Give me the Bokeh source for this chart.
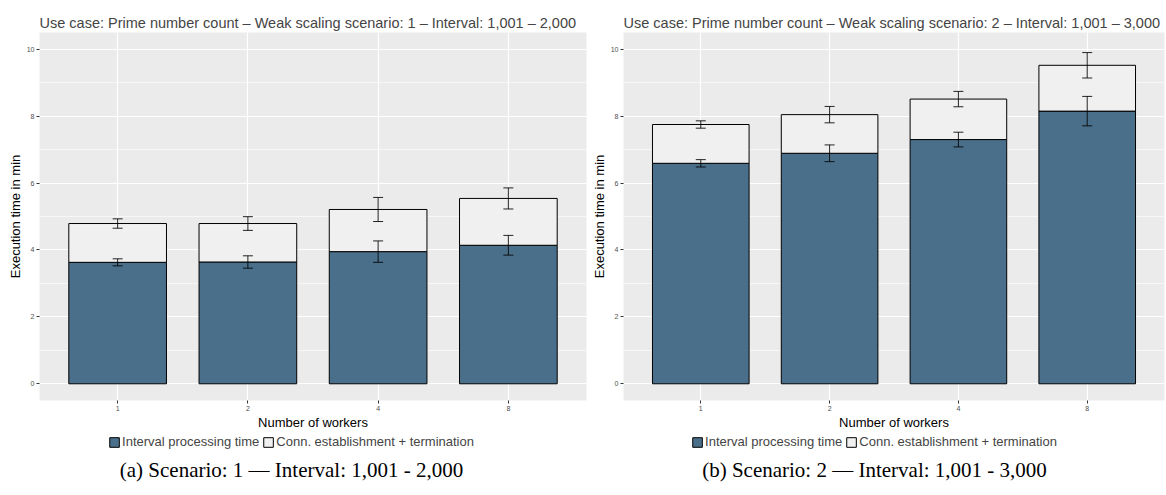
from bokeh.plotting import figure
from bokeh.models import (FactorRange, Range1d, ColumnDataSource, Whisker, TeeHead,
                          SingleIntervalTicker, Legend, LegendItem)
from bokeh.core.properties import value
from bokeh.layouts import row, column
from bokeh.embed import file_html
from bokeh.resources import INLINE

# Number of workers (categorical x axis)
workers = ["1", "2", "4", "8"]

# Scenario 1 - interval 1,001 - 2,000, execution time in minutes
s1_interval = [3.63, 3.64, 3.95, 4.14]
s1_interval_sd = [0.105, 0.185, 0.32, 0.295]
s1_conn = [1.16, 1.15, 1.26, 1.40]
s1_total_sd = [0.14, 0.205, 0.36, 0.315]

# Scenario 2 - interval 1,001 - 3,000, execution time in minutes
s2_interval = [6.59, 6.89, 7.30, 8.15]
s2_interval_sd = [0.11, 0.25, 0.22, 0.44]
s2_conn = [1.16, 1.155, 1.21, 1.37]
s2_total_sd = [0.11, 0.245, 0.23, 0.38]

series_labels = ["Interval processing time", "Conn. establishment + termination"]
titles = [
    "Use case: Prime number count \u2013 Weak scaling scenario: 1 \u2013 Interval: 1,001 \u2013 2,000",
    "Use case: Prime number count \u2013 Weak scaling scenario: 2 \u2013 Interval: 1,001 \u2013 3,000",
]
captions = [
    "(a) Scenario: 1 \u2014 Interval: 1,001 - 2,000",
    "(b) Scenario: 2 \u2014 Interval: 1,001 - 3,000",
]

INTERVAL_COLOR = "#4A6F8A"
CONN_COLOR = "#F0F0F0"
PANEL_BG = "#EBEBEB"
SANS = "Liberation Sans"
SERIF = "Liberation Serif"


def make_chart(interval, interval_sd, conn, total_sd, title, width, border_left):
    total = [i + c for i, c in zip(interval, conn)]
    src = ColumnDataSource(dict(
        x=workers,
        interval=interval,
        total=total,
        i_lo=[v - s for v, s in zip(interval, interval_sd)],
        i_hi=[v + s for v, s in zip(interval, interval_sd)],
        t_lo=[v - s for v, s in zip(total, total_sd)],
        t_hi=[v + s for v, s in zip(total, total_sd)],
    ))

    p = figure(
        x_range=FactorRange(*workers, range_padding=0.1, range_padding_units="absolute"),
        y_range=Range1d(-0.5, 10.5),
        width=width, height=432,
        output_backend="svg", toolbar_location=None,
        min_border_left=border_left, min_border_right=2,
        min_border_top=32, min_border_bottom=31,
        background_fill_color=PANEL_BG, border_fill_color="white",
        outline_line_color=None,
    )

    # title above the panel
    p.title.text = title
    p.title.text_font = SANS
    p.title.text_font_size = "14.5px"
    p.title.text_font_style = "normal"
    p.title.align = "left"
    p.title.standoff = 3

    # axes
    p.yaxis.ticker = SingleIntervalTicker(interval=2, num_minor_ticks=2)
    p.xaxis.axis_label = "Number of workers"
    p.yaxis.axis_label = "Execution time in min"
    for ax in (p.xaxis, p.yaxis):
        ax.axis_label_text_font = SANS
        ax.axis_label_text_font_size = "13px"
        ax.axis_label_text_font_style = "normal"
        ax.axis_label_text_color = "black"
        ax.axis_label_standoff = 1
        ax.major_label_text_font = SANS
        ax.major_label_text_font_size = "7px"
        ax.major_label_text_color = "#4D4D4D"
        ax.major_label_standoff = 2
        ax.axis_line_color = None
        ax.major_tick_line_color = "#333333"
        ax.major_tick_out = 3
        ax.major_tick_in = 0
        ax.minor_tick_out = 0
        ax.minor_tick_in = 0

    # grid
    p.xgrid.grid_line_color = "white"
    p.xgrid.grid_line_width = 1.2
    p.ygrid.grid_line_color = "white"
    p.ygrid.grid_line_width = 1.2
    p.ygrid.minor_grid_line_color = "white"
    p.ygrid.minor_grid_line_width = 0.6

    # stacked bars
    p.vbar(x="x", bottom=0, top="interval", width=0.75, source=src,
           fill_color=INTERVAL_COLOR, line_color="black", line_width=1)
    p.vbar(x="x", bottom="interval", top="total", width=0.75, source=src,
           fill_color=CONN_COLOR, line_color="black", line_width=1)

    # error bars (mean +/- sd of each stacked level), drawn over the bars
    for lo, hi in (("i_lo", "i_hi"), ("t_lo", "t_hi")):
        w = Whisker(source=src, base="x", lower=lo, upper=hi, level="overlay",
                    line_color="black", line_width=1, line_alpha=0.85,
                    upper_head=TeeHead(size=10, line_color="black", line_width=1, line_alpha=0.85),
                    lower_head=TeeHead(size=10, line_color="black", line_width=1, line_alpha=0.85))
        p.add_layout(w)
    return p


def make_footer(caption, width):
    """Legend row and sub-figure caption under a chart."""
    f = figure(width=width, height=63, x_range=Range1d(0, 1), y_range=Range1d(0, 1),
               x_axis_type=None, y_axis_type=None,
               output_backend="svg", toolbar_location=None,
               min_border=0, min_border_right=6, outline_line_color=None)
    f.grid.visible = False
    # legend swatches only: a single NaN row, so nothing is drawn in the frame
    swatch = ColumnDataSource(dict(x=[float("nan")], top=[float("nan")]))
    r_int = f.vbar(x="x", top="top", width=0.1, source=swatch,
                   fill_color=INTERVAL_COLOR, line_color="black", line_width=1)
    r_conn = f.vbar(x="x", top="top", width=0.1, source=swatch,
                    fill_color=CONN_COLOR, line_color="black", line_width=1)
    legend = Legend(
        items=[LegendItem(label=series_labels[0], renderers=[r_int]),
               LegendItem(label=series_labels[1], renderers=[r_conn])],
        orientation="horizontal", location="top_center",
        margin=2, padding=2, spacing=3, label_standoff=2,
        glyph_width=12, glyph_height=12,
        label_text_font=SANS, label_text_font_size="13px",
        border_line_color=None, background_fill_alpha=0,
    )
    f.add_layout(legend)
    f.text(x=[0.5], y=[0.41], text=[caption],
           text_font=value(SERIF), text_font_size=value("21px"),
           text_align="center", text_baseline="middle", text_color="black")
    return f


p1 = make_chart(s1_interval, s1_interval_sd, s1_conn, s1_total_sd,
                titles[0], width=588, border_left=39)
p2 = make_chart(s2_interval, s2_interval_sd, s2_conn, s2_total_sd,
                titles[1], width=578, border_left=32)
f1 = make_footer(captions[0], 588)
f2 = make_footer(captions[1], 578)

layout = column(row(p1, p2), row(f1, f2), spacing=0)
open("out.html", "w").write(file_html(layout, INLINE))
